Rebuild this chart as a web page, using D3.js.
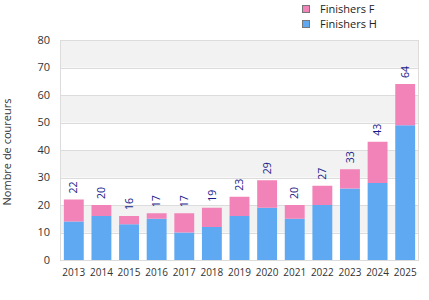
<!DOCTYPE html>
<html>
<head>
<meta charset="utf-8">
<script src="https://cdn.jsdelivr.net/npm/d3@7"></script>
<style>
  body { margin: 0; background: #fff; }
  svg { display: block; font-family: "Open Sans", sans-serif; }
</style>
</head>
<body>
<svg id="chart" width="429" height="300"></svg>
<script>
const years = ["2013", "2014", "2015", "2016", "2017", "2018", "2019", "2020", "2021", "2022", "2023", "2024", "2025"];
const finishersH = [14, 16, 13, 15, 10, 12, 16, 19, 15, 20, 26, 28, 49];
const finishersF = [8, 4, 3, 2, 7, 7, 7, 10, 5, 7, 7, 15, 15];
const yTicks = [0, 10, 20, 30, 40, 50, 60, 70, 80];

const series = [
  { key: "Finishers H", values: finishersH, color: "#5fa8f2" },
  { key: "Finishers F", values: finishersF, color: "#f283b8" }
];

const svg = d3.select("#chart");
const margin = { top: 40, right: 10, bottom: 40, left: 60 };
const width = 429, height = 300;
const innerW = width - margin.left - margin.right;
const innerH = height - margin.top - margin.bottom;

const x = d3.scaleBand().domain(years).range([0, innerW]).paddingInner(0.28).paddingOuter(0.14);
const y = d3.scaleLinear().domain([0, 80]).range([innerH, 0]);

const g = svg.append("g").attr("transform", `translate(${margin.left},${margin.top})`);

// alternating bands
const bands = d3.range(0, 80, 10);
g.selectAll("rect.band")
  .data(bands)
  .join("rect")
  .attr("class", "band")
  .attr("x", 0)
  .attr("width", innerW)
  .attr("y", d => y(d + 10))
  .attr("height", d => y(d) - y(d + 10))
  .attr("fill", d => (d / 10) % 2 === 1 ? "#f2f2f2" : "#ffffff");

// grid lines
g.selectAll("line.grid")
  .data(yTicks)
  .join("line")
  .attr("class", "grid")
  .attr("x1", 0)
  .attr("x2", innerW)
  .attr("y1", d => Math.round(y(d)) + 0.5)
  .attr("y2", d => Math.round(y(d)) + 0.5)
  .attr("stroke", "#dcdcdc");

// frame
g.append("rect")
  .attr("x", 0.5)
  .attr("y", 0.5)
  .attr("width", innerW - 1)
  .attr("height", innerH)
  .attr("fill", "none")
  .attr("stroke", "#dcdcdc");

// stacked bars
const table = years.map((yr, i) => ({ year: yr, "Finishers H": finishersH[i], "Finishers F": finishersF[i] }));
const stack = d3.stack().keys(series.map(s => s.key))(table);

g.selectAll("g.layer")
  .data(stack)
  .join("g")
  .attr("class", "layer")
  .attr("fill", (d, i) => series[i].color)
  .selectAll("rect")
  .data(d => d)
  .join("rect")
  .attr("x", d => x(d.data.year))
  .attr("width", x.bandwidth())
  .attr("y", d => y(d[1]))
  .attr("height", d => y(d[0]) - y(d[1]));

// total labels
g.selectAll("text.total")
  .data(table)
  .join("text")
  .attr("class", "total")
  .attr("transform", d => `translate(${x(d.year) + x.bandwidth() / 2},${y(d["Finishers H"] + d["Finishers F"]) - 6}) rotate(-90)`)
  .attr("dy", "0.35em")
  .attr("text-anchor", "start")
  .attr("fill", "#1a1a8c")
  .attr("font-size", "10.5px")
  .text(d => d["Finishers H"] + d["Finishers F"]);

// y axis labels
g.selectAll("text.ytick")
  .data(yTicks)
  .join("text")
  .attr("class", "ytick")
  .attr("x", -10)
  .attr("y", d => y(d))
  .attr("dy", "0.35em")
  .attr("text-anchor", "end")
  .attr("fill", "#333")
  .attr("font-size", "11px")
  .text(d => d);

// x axis labels
g.selectAll("text.xtick")
  .data(years)
  .join("text")
  .attr("class", "xtick")
  .attr("x", d => x(d) + x.bandwidth() / 2)
  .attr("y", innerH + 12)
  .attr("dy", "0.35em")
  .attr("text-anchor", "middle")
  .attr("fill", "#333")
  .attr("font-size", "10px")
  .text(d => d);

// y axis title
svg.append("text")
  .attr("transform", `translate(7,${margin.top + innerH / 2 + 2}) rotate(-90)`)
  .attr("dy", "0.35em")
  .attr("text-anchor", "middle")
  .attr("fill", "#333")
  .attr("font-size", "11px")
  .text("Nombre de coureurs");

// legend
const legend = svg.append("g").attr("transform", "translate(302,5)");
const legendItems = series.slice().reverse();
const item = legend.selectAll("g")
  .data(legendItems)
  .join("g")
  .attr("transform", (d, i) => `translate(0,${i * 15})`);
item.append("rect")
  .attr("x", 0.5)
  .attr("y", 0.5)
  .attr("width", 7)
  .attr("height", 7)
  .attr("fill", d => d.color)
  .attr("stroke", "#777");
item.append("text")
  .attr("x", 18)
  .attr("y", 4)
  .attr("dy", "0.35em")
  .attr("fill", "#222")
  .attr("font-size", "11px")
  .text(d => d.key);
</script>
</body>
</html>
